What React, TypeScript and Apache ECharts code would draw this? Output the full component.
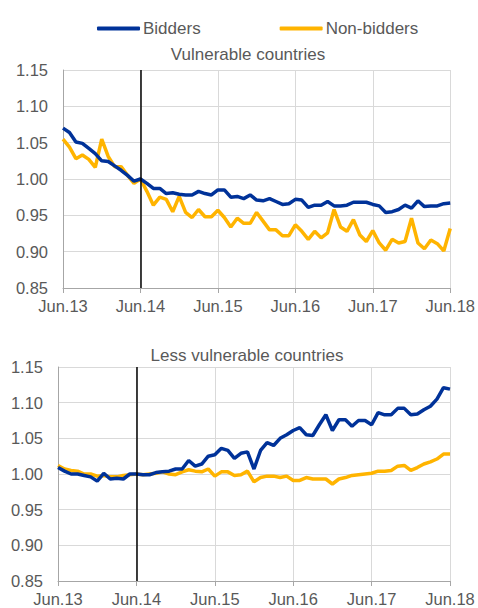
import React, { useEffect, useRef } from "react";
import * as echarts from "echarts";

const yearLabels = ["13", "14", "15", "16", "17", "18"];
const monthNames = ["Jun", "Jul", "Aug", "Sep", "Oct", "Nov", "Dec", "Jan", "Feb", "Mar", "Apr", "May"];

const vulnBidders = [
  1.070, 1.064, 1.051, 1.049, 1.042, 1.035, 1.025, 1.024, 1.018, 1.012, 1.005, 0.997,
  1.000, 0.994, 0.987, 0.987, 0.980, 0.981, 0.979, 0.978, 0.978, 0.983, 0.980, 0.978,
  0.985, 0.985, 0.975, 0.976, 0.973, 0.978, 0.971, 0.970, 0.973, 0.969, 0.965, 0.966,
  0.972, 0.971, 0.961, 0.964, 0.964, 0.969, 0.963, 0.963, 0.964, 0.968, 0.968, 0.968,
  0.965, 0.963, 0.954, 0.955, 0.958, 0.964, 0.960, 0.970, 0.962, 0.963, 0.963, 0.966,
  0.967,
];
const vulnNonBidders = [
  1.055, 1.044, 1.028, 1.033, 1.027, 1.016, 1.055, 1.031, 1.017, 1.017, 1.005, 0.994,
  1.000, 0.983, 0.964, 0.975, 0.972, 0.955, 0.976, 0.954, 0.947, 0.958, 0.948, 0.948,
  0.957, 0.947, 0.934, 0.946, 0.939, 0.939, 0.954, 0.942, 0.930, 0.930, 0.922, 0.922,
  0.937, 0.928, 0.917, 0.928, 0.919, 0.926, 0.958, 0.934, 0.928, 0.944, 0.923, 0.914,
  0.929, 0.912, 0.902, 0.917, 0.912, 0.914, 0.946, 0.912, 0.904, 0.916, 0.911, 0.901,
  0.932,
];
const lessBidders = [
  1.009, 1.004, 1.000, 1.000, 0.998, 0.996, 0.990, 1.001, 0.993, 0.994, 0.993, 1.000,
  1.000, 0.999, 0.999, 1.002, 1.003, 1.004, 1.007, 1.007, 1.019, 1.011, 1.014, 1.025,
  1.027, 1.036, 1.033, 1.022, 1.029, 1.031, 1.007, 1.033, 1.044, 1.040, 1.050, 1.055,
  1.061, 1.065, 1.055, 1.054, 1.069, 1.083, 1.061, 1.076, 1.076, 1.067, 1.075, 1.075,
  1.069, 1.086, 1.083, 1.083, 1.092, 1.092, 1.083, 1.084, 1.090, 1.095, 1.105, 1.121,
  1.119,
];
const lessNonBidders = [
  1.012, 1.007, 1.005, 1.004, 1.000, 1.000, 0.997, 0.998, 0.996, 0.996, 0.998, 0.999,
  1.000, 0.999, 1.000, 1.001, 1.003, 1.000, 0.999, 1.003, 1.006, 1.004, 1.003, 1.007,
  0.997, 1.003, 1.003, 0.998, 0.999, 1.004, 0.989, 0.995, 0.997, 0.997, 0.995, 0.997,
  0.991, 0.991, 0.995, 0.993, 0.993, 0.993, 0.986, 0.993, 0.995, 0.998, 0.999, 1.000,
  1.001, 1.004, 1.004, 1.005, 1.011, 1.012, 1.005, 1.009, 1.014, 1.017, 1.021, 1.028,
  1.028,
];

const BLUE = "#003299";
const YELLOW = "#FFB400";
const TEXT = "#595959";
const FONT = "Liberation Sans, Arial, sans-serif";

function buildCategories(): string[] {
  const cats: string[] = [];
  for (let y = 0; y < yearLabels.length; y++) {
    for (let m = 0; m < 12; m++) {
      if (y === yearLabels.length - 1 && m > 0) break;
      cats.push(monthNames[m] + "." + (m < 7 ? yearLabels[y] : String(Number(yearLabels[y]) + 1)));
    }
  }
  return cats;
}

export default function App() {
  const ref = useRef<HTMLDivElement>(null);
  useEffect(() => {
    if (!ref.current) return;
    const chart = echarts.init(ref.current, null, { renderer: "svg" });
    const categories = buildCategories();
    const xAxisBase = (gridIndex: number) => ({
      type: "category",
      gridIndex,
      data: categories,
      boundaryGap: false,
      axisLine: { show: true, lineStyle: { color: "#a6a6a6", width: 1 } },
      axisTick: { show: true, interval: 11, length: 5, lineStyle: { color: "#a6a6a6" } },
      axisLabel: {
        interval: 11,
        color: TEXT,
        fontSize: 16.5,
        fontFamily: FONT,
        margin: 9,
        showMaxLabel: true,
      },
      splitLine: { show: true, interval: 11, lineStyle: { color: "#d9d9d9", width: 1 } },
    });
    const yAxisBase = (gridIndex: number) => ({
      type: "value",
      gridIndex,
      min: 0.85,
      max: 1.15,
      interval: 0.05,
      axisLine: { show: true, lineStyle: { color: "#a6a6a6", width: 1 } },
      axisTick: { show: false },
      axisLabel: {
        color: TEXT,
        fontSize: 16.5,
        fontFamily: FONT,
        margin: 15,
        formatter: (v: number) => v.toFixed(2),
      },
      splitLine: { show: true, lineStyle: { color: "#d9d9d9", width: 1 } },
    });
    const markLine = {
      silent: true,
      symbol: ["none", "none"],
      label: { show: false },
      lineStyle: { color: "#000", width: 1.5, type: "solid" },
      data: [{ xAxis: 12 }],
    };
    const lineSeries = (name: string, data: number[], color: string, idx: number, withMark: boolean) => ({
      type: "line",
      name,
      data,
      xAxisIndex: idx,
      yAxisIndex: idx,
      showSymbol: false,
      symbol: "none",
      lineStyle: { color, width: 3.5 },
      itemStyle: { color },
      z: color === BLUE ? 3 : 2,
      ...(withMark ? { markLine } : {}),
    });
    chart.setOption({
      animation: false,
      textStyle: { fontFamily: FONT },
      legend: {
        top: 15,
        left: 92,
        itemWidth: 43,
        itemHeight: 4,
        itemGap: 79,
        icon: "roundRect",
        textStyle: { color: TEXT, fontSize: 17, fontFamily: FONT, padding: [0, 0, 0, -2] },
        data: ["Bidders", "Non-bidders"],
      },
      title: [
        {
          text: "Vulnerable countries",
          left: 243,
          top: 41,
          textAlign: "center",
          textStyle: { color: TEXT, fontSize: 17, fontWeight: "normal", fontFamily: FONT },
        },
        {
          text: "Less vulnerable countries",
          left: 242,
          top: 342,
          textAlign: "center",
          textStyle: { color: TEXT, fontSize: 17, fontWeight: "normal", fontFamily: FONT },
        },
      ],
      grid: [
        { left: 63, right: 26, top: 70, height: 218 },
        { left: 58, right: 28, top: 367, height: 214 },
      ],
      xAxis: [xAxisBase(0), xAxisBase(1)],
      yAxis: [yAxisBase(0), yAxisBase(1)],
      series: [
        lineSeries("Non-bidders", vulnNonBidders, YELLOW, 0, false),
        lineSeries("Bidders", vulnBidders, BLUE, 0, true),
        lineSeries("Non-bidders", lessNonBidders, YELLOW, 1, false),
        lineSeries("Bidders", lessBidders, BLUE, 1, true),
      ],
    });
    return () => chart.dispose();
  }, []);
  return <div ref={ref} style={{ width: 478, height: 608, position: "absolute", left: 0, top: 0 }} />;
}
